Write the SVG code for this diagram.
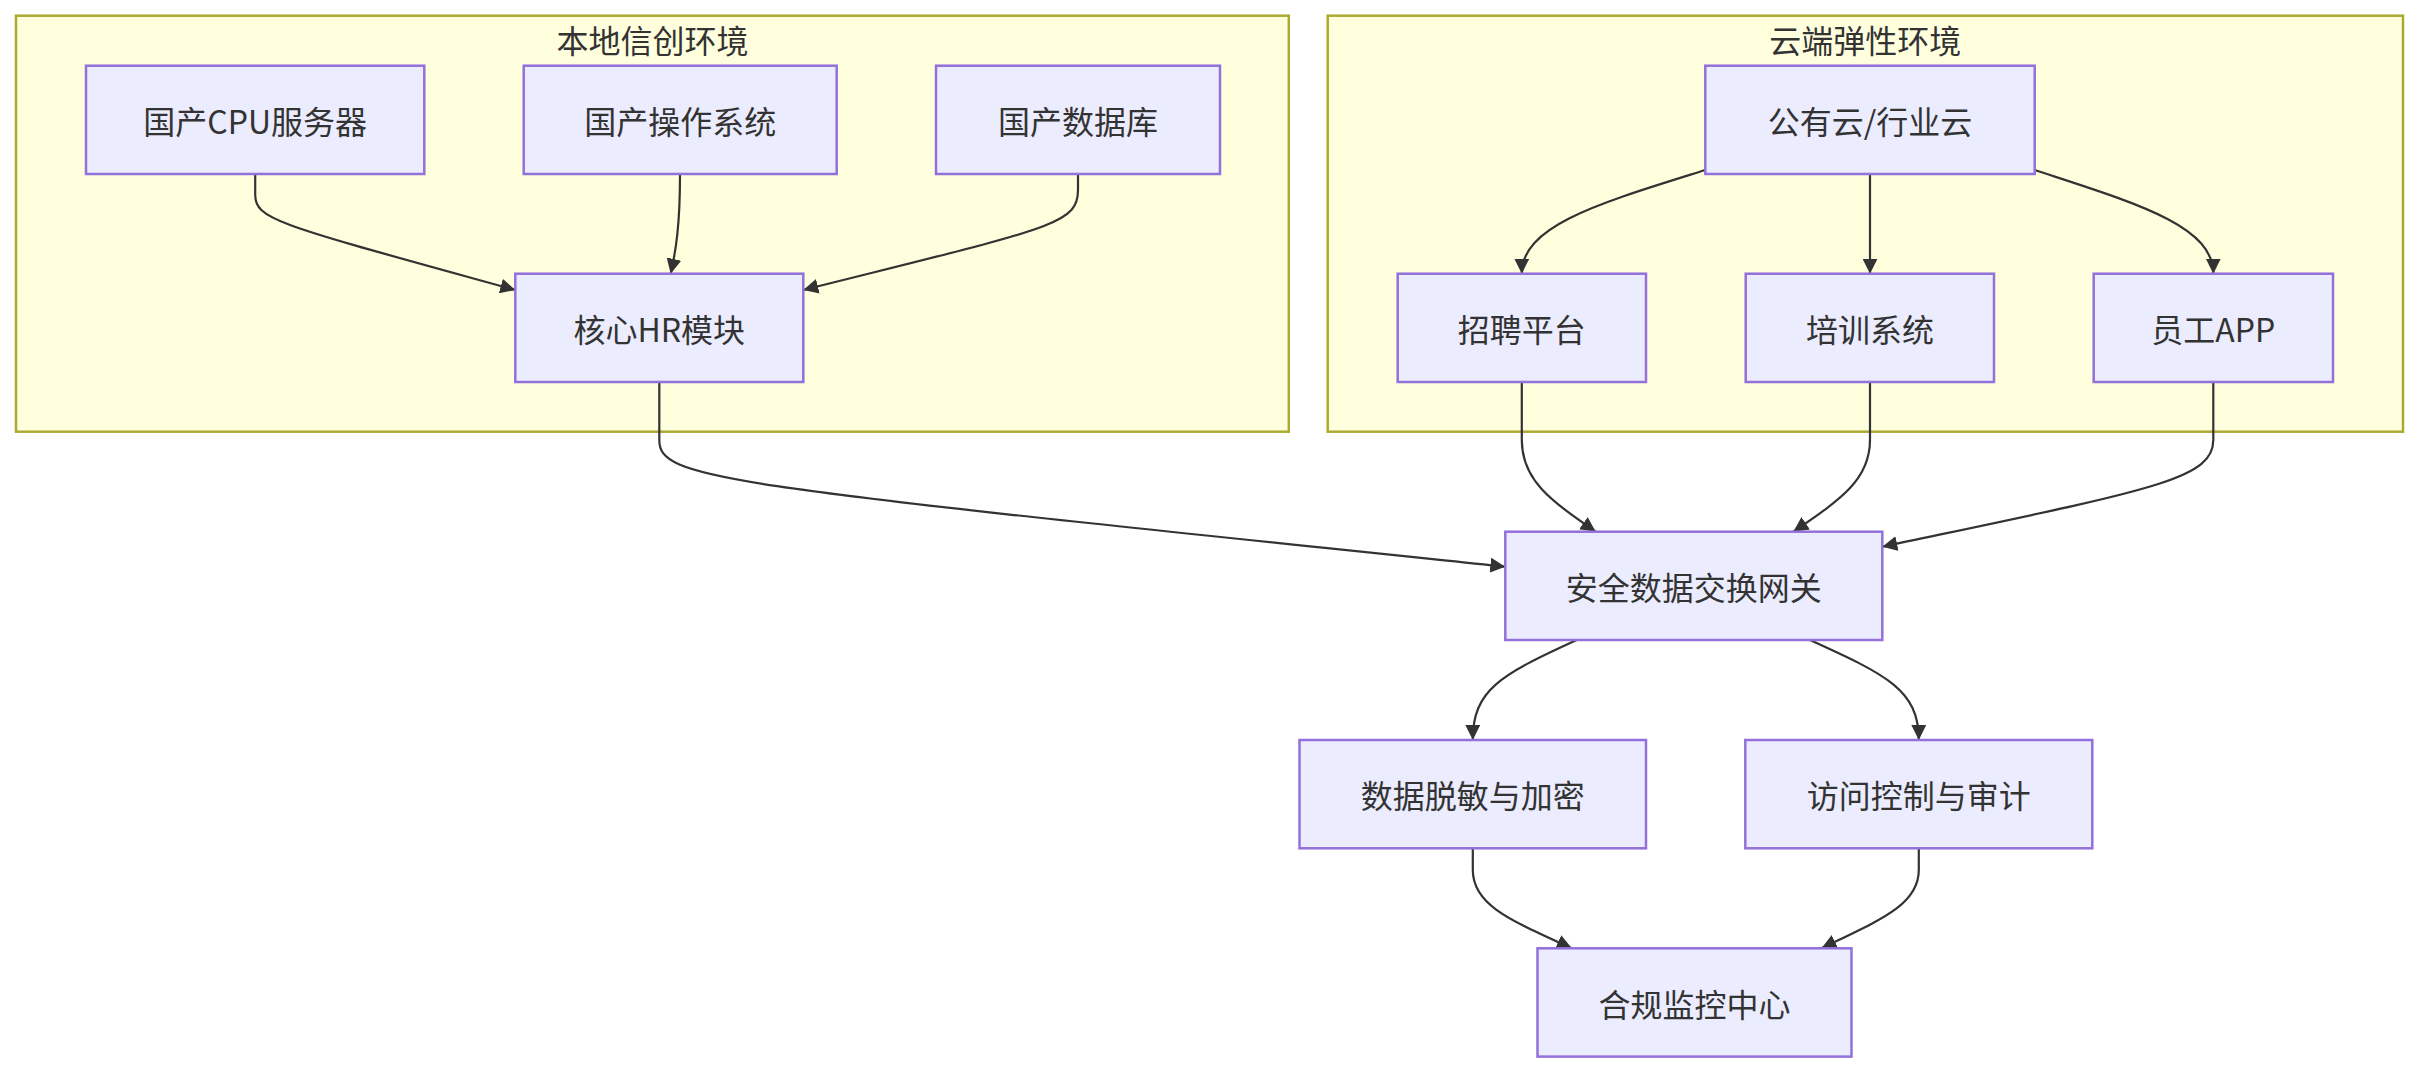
<svg xmlns="http://www.w3.org/2000/svg" width="2418" height="1072" viewBox="0 0 2418 1072">
<style>
  .cluster rect { fill: #ffffde; stroke: #aaaa33; stroke-width: 2.5; }
  .cluster text { font-family: "Noto Sans CJK SC", "Noto Sans", sans-serif; font-size: 32px; fill: #333; text-anchor: middle; dominant-baseline: central; }
  .node rect { fill: #ECECFF; stroke: #9370DB; stroke-width: 2.5; }
  .node text { font-family: "Noto Sans CJK SC", "Noto Sans", sans-serif; font-size: 32px; fill: #333; text-anchor: middle; dominant-baseline: central; }
  .edge { fill: none; stroke: #333; stroke-width: 2.2; marker-end: url(#arrow); }
</style>
<defs>
  <marker id="arrow" viewBox="0 0 10 10" refX="10" refY="5" markerUnits="userSpaceOnUse" markerWidth="15" markerHeight="15" orient="auto">
    <path d="M0,0 L10,5 L0,10 z" fill="#333"/>
  </marker>
</defs>
<rect width="2418" height="1072" fill="#ffffff"/>

<g id="cluster-local" class="cluster">
  <rect x="16" y="15.7" width="1272.8" height="416"/>
  <text x="652.4" y="39">本地信创环境</text>
</g>
<g id="cluster-cloud" class="cluster">
  <rect x="1327.7" y="15.7" width="1075.3" height="416"/>
  <text x="1865.3" y="39">云端弹性环境</text>
</g>

<g id="edges">
  <path class="edge" d="M255.2,174 L255.2,195 C255.2,220 280,225 515.3,290"/>
  <path class="edge" d="M680,174 C680,225 676,250 670.7,273.7"/>
  <path class="edge" d="M1078,174 L1078,190 C1078,225 1050,228 803.3,290"/>
  <path class="edge" d="M659.3,382 L659.3,440 C659.3,480 720,485 1505.3,566.7"/>
  <path class="edge" d="M1705.3,170 C1600,203 1521.8,225 1521.8,273.7"/>
  <path class="edge" d="M1870,174 L1870,273.7"/>
  <path class="edge" d="M2034.7,170 C2135,203 2213.3,225 2213.3,273.7"/>
  <path class="edge" d="M1521.8,382 L1521.8,440 C1521.8,480 1550,500 1595.7,531.7"/>
  <path class="edge" d="M1870,382 L1870,440 C1870,480 1840,500 1793.3,531.7"/>
  <path class="edge" d="M2213.3,382 L2213.3,440 C2213.3,480 2150,490 1882.3,546.7"/>
  <path class="edge" d="M1576.7,640 C1500,675 1472.8,690 1472.8,740"/>
  <path class="edge" d="M1810,640 C1887,675 1918.8,690 1918.8,740"/>
  <path class="edge" d="M1472.8,848.3 L1472.8,870 C1472.8,905 1510,920 1571.8,948.3"/>
  <path class="edge" d="M1918.8,848.3 L1918.8,870 C1918.8,905 1880,920 1821.5,948.3"/>
</g>

<g id="node-cpu" class="node">
  <rect x="86" y="65.7" width="338.3" height="108.3"/>
  <text x="255.2" y="119.9">国产CPU服务器</text>
</g>
<g id="node-os" class="node">
  <rect x="523.7" y="65.7" width="313" height="108.3"/>
  <text x="680.2" y="119.9">国产操作系统</text>
</g>
<g id="node-db" class="node">
  <rect x="936" y="65.7" width="284" height="108.3"/>
  <text x="1078" y="119.9">国产数据库</text>
</g>
<g id="node-hr" class="node">
  <rect x="515.3" y="273.7" width="288" height="108.3"/>
  <text x="659.3" y="327.9">核心HR模块</text>
</g>
<g id="node-cloud" class="node">
  <rect x="1705.3" y="65.7" width="329.4" height="108.3"/>
  <text x="1870" y="119.9">公有云/行业云</text>
</g>
<g id="node-recruit" class="node">
  <rect x="1397.7" y="273.7" width="248.3" height="108.3"/>
  <text x="1521.8" y="327.9">招聘平台</text>
</g>
<g id="node-training" class="node">
  <rect x="1745.7" y="273.7" width="248.3" height="108.3"/>
  <text x="1869.9" y="327.9">培训系统</text>
</g>
<g id="node-app" class="node">
  <rect x="2093.7" y="273.7" width="239.3" height="108.3"/>
  <text x="2213.3" y="327.9">员工APP</text>
</g>
<g id="node-gateway" class="node">
  <rect x="1505.3" y="531.7" width="377" height="108.3"/>
  <text x="1693.8" y="585.9">安全数据交换网关</text>
</g>
<g id="node-mask" class="node">
  <rect x="1299.5" y="740" width="346.5" height="108.3"/>
  <text x="1472.8" y="794.2">数据脱敏与加密</text>
</g>
<g id="node-access" class="node">
  <rect x="1745.3" y="740" width="347" height="108.3"/>
  <text x="1918.8" y="794.2">访问控制与审计</text>
</g>
<g id="node-compliance" class="node">
  <rect x="1537.5" y="948.3" width="314" height="108.3"/>
  <text x="1694.5" y="1002.5">合规监控中心</text>
</g>
</svg>
